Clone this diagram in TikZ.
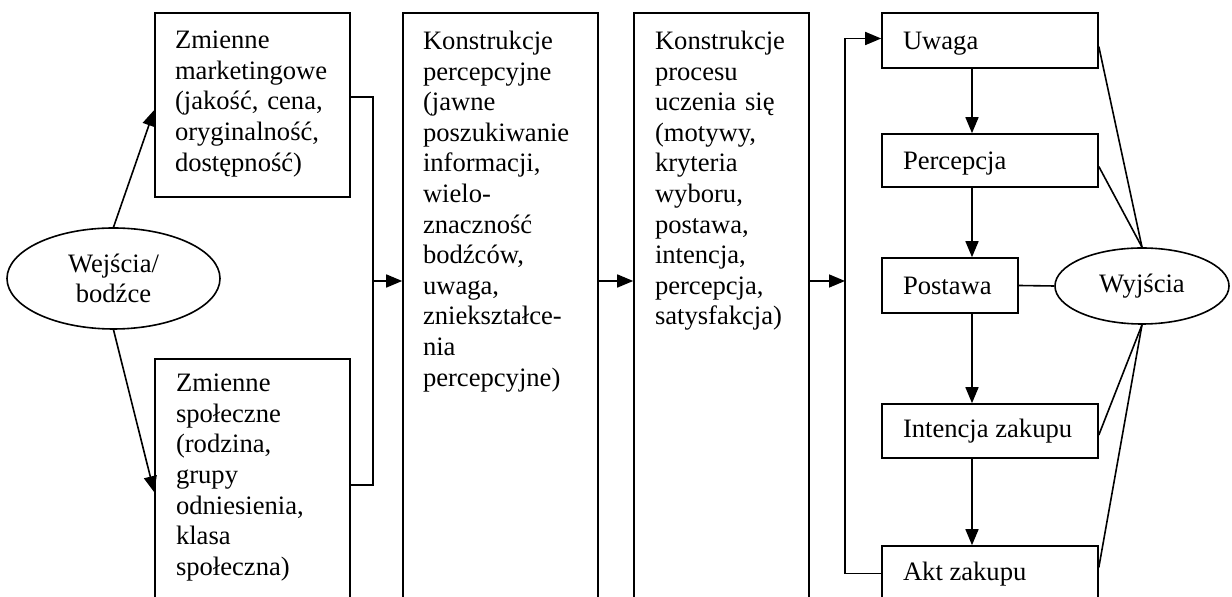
\documentclass[tikz,border=0pt]{standalone}
\usepackage{fontspec}
\setmainfont{Liberation Serif}
\usetikzlibrary{shapes.geometric,arrows.meta,fit,calc}
\begin{document}
\begin{tikzpicture}[x=0.5pt,y=-0.5pt,
  font=\fontsize{13.3pt}{15.3pt}\selectfont,
  line width=0.8pt,
  box/.style={draw, rectangle, inner sep=0pt},
  oval/.style={draw, ellipse, inner sep=0pt, align=center},
  txt/.style={anchor=north west, inner sep=0pt, align=left},
  lbl/.style={anchor=base west, inner sep=0pt},
  arr/.style={-{Triangle[length=8pt,width=6.5pt]}}]
\useasboundingbox (0,0) rectangle (1232,597);
\clip (0,0) rectangle (1232,597);

% inputs
\node[oval, minimum width=106.5pt, minimum height=50.5pt] (in) at (113.5,278.5) {Wejścia/\\bodźce};

% stimulus boxes
\node[box, fit={(155,13)(350,197)}] (m1) {};
\node[txt, text width=77.5pt] (m1t) at ($(m1.north west)+(20,18)$)
  {Zmienne\\marketingowe\\\makebox[77.5pt][s]{(jakość, cena,}\\oryginalność,\\dostępność)};
\node[box, fit={(155,359)(350,640)}] (m2) {};
\node[txt, text width=77.5pt] (m2t) at ($(m2.north west)+(21,15)$)
  {Zmienne\\społeczne\\(rodzina,\\grupy\\odniesienia,\\klasa\\społeczna)};

% hypothetical constructs
\node[box, fit={(403,13)(598,640)}] (k1) {};
\node[txt, text width=77.5pt] (k1t) at ($(k1.north west)+(20,18)$)
  {Konstrukcje\\percepcyjne\\(jawne\\poszukiwanie\\informacji,\\wielo-\\znaczność\\bodźców,\\uwaga,\\zniekształce-\\nia\\percepcyjne)};
\node[box, fit={(634,13)(809,640)}] (k2) {};
\node[txt, text width=67pt] (k2t) at ($(k2.north west)+(21,18)$)
  {Konstrukcje\\procesu\\\makebox[67pt][s]{uczenia się}\\(motywy,\\kryteria\\wyboru,\\postawa,\\intencja,\\percepcja,\\satysfakcja)};

% response hierarchy
\node[box, fit={(882,13)(1098,68)}] (u1) {};
\node[box, fit={(882,134)(1098,187)}] (u2) {};
\node[box, fit={(882,258)(1018,313)}] (u3) {};
\node[box, fit={(882,404)(1098,458)}] (u4) {};
\node[box, fit={(882,546)(1098,601)}] (u5) {};
\node[lbl] (u1t) at ($(u1.west)+(21,9)$) {Uwaga};
\node[lbl] (u2t) at ($(u2.west)+(21,9)$) {Percepcja};
\node[lbl] (u3t) at ($(u3.west)+(21,9)$) {Postawa};
\node[lbl] (u4t) at ($(u4.west)+(21,7)$) {Intencja zakupu};
\node[lbl] (u5t) at ($(u5.west)+(21,7)$) {Akt zakupu};

% outputs
\node[oval, minimum width=87pt, minimum height=38pt] (out) at (1142,286) {Wyjścia};

% connectors: inputs to stimulus boxes
\draw[arr] (in.north) -- ($(m1.west)+(0,5)$);
\draw[arr] (in.south) -- ($(m2.north west)+(0,134)$);

% merging bus between stimuli and constructs
\coordinate (b1) at (373,97);
\coordinate (b2) at (373,485);
\coordinate (b3) at (373,281);
\draw (m1.east |- b1) -- (b1) -- (b2) -- (m2.east |- b2);
\draw[arr] (b3) -- (k1.west |- b3);
\draw[arr] (k1.east |- b3) -- (k2.west |- b3);

% bus feeding the response hierarchy
\coordinate (c3) at (845,281);
\draw[arr] (k2.east |- c3) -- (c3);
\draw[arr] (u5.west) -- (u5.west -| c3) -- ($(u1.west -| c3)+(0,-2)$) -- ($(u1.west)+(0,-2)$);

% hierarchy steps
\coordinate (cx) at (972,0);
\draw[arr] (u1.south -| cx) -- (u2.north -| cx);
\draw[arr] (u2.south -| cx) -- (u3.north -| cx);
\draw[arr] (u3.south -| cx) -- (u4.north -| cx);
\draw[arr] (u4.south -| cx) -- (u5.north -| cx);

% links to outputs
\draw (out.north) -- ($(u1.east)+(0,6)$);
\draw (out.north) -- ($(u2.east)+(0,6)$);
\draw (u3.east) -- (out.west);
\draw (out.south) -- ($(u4.east)+(0,4)$);
\draw (out.south) -- ($(u5.east)+(0,-6)$);
\end{tikzpicture}
\end{document}
